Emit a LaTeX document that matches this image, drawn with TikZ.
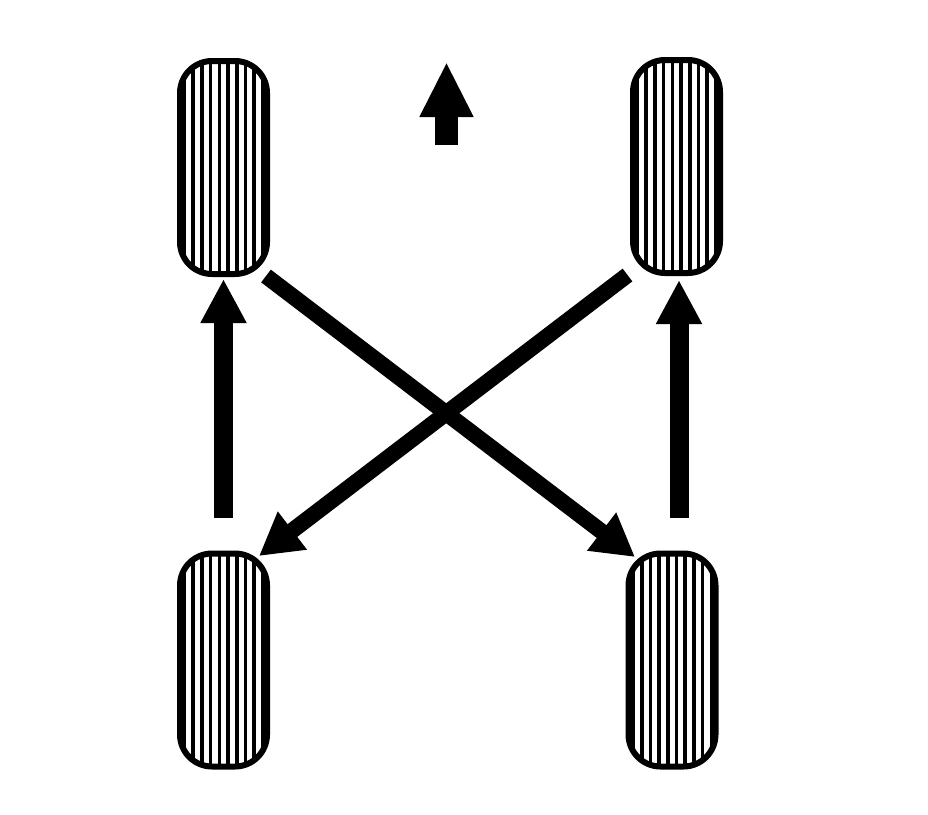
\documentclass[tikz,border=0pt]{standalone}
\usetikzlibrary{arrows.meta}
\tikzset{
  tire/.style={draw, line width=6pt, rounded corners=32pt, minimum width=87pt, minimum height=213pt, inner sep=0pt,
    path picture={
      \foreach \d in {-39,-30.3,-21.6,-12.9,-4.2,4.5,13.2,21.9,30.6,39.3}
        \draw[line width=3.6pt] ([xshift=\d pt]path picture bounding box.north) -- ([xshift=\d pt]path picture bounding box.south);
    }},
  vbar/.style={line width=19pt, -{Triangle[length=44pt,width=43pt]}},
  dbar/.style={line width=16pt, -{Triangle[length=42pt,width=45pt]}},
  fwd/.style={line width=23pt, -{Triangle[length=55pt,width=50pt]}}
}
\begin{document}
\begin{tikzpicture}[x=1pt,y=-1pt]
\useasboundingbox[fill=white] (0,0) rectangle (928,814);
\node[tire] (tl) at (223.5,167.5) {};
\node[tire] (tr) at (676.5,166.5) {};
\node[tire] (bl) at (223.5,660) {};
\node[tire] (br) at (672,660) {};
% forward arrow
\coordinate (fs) at (446.5,145);
\coordinate (ft) at (446.5,62);
\draw[fwd] (fs) -- (ft);
% vertical arrows
\coordinate (ls) at (223.5,518);
\coordinate (lt) at (223.5,279);
\coordinate (rs) at (679,518);
\coordinate (rt) at (679,280);
\draw[vbar] (ls) -- (lt);
\draw[vbar] (rs) -- (rt);
% diagonal arrows
\coordinate (d1s) at (266,276);
\coordinate (d1t) at (635,557);
\coordinate (d2s) at (627.5,275);
\coordinate (d2t) at (259,556);
\draw[dbar] (d1s) -- (d1t);
\draw[dbar] (d2s) -- (d2t);
\end{tikzpicture}
\end{document}
